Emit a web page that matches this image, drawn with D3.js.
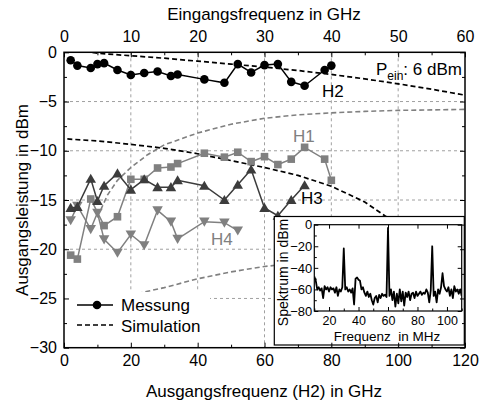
<!DOCTYPE html>
<html>
<head>
<meta charset="utf-8">
<script src="https://cdn.jsdelivr.net/npm/d3@7"></script>
<style>
  html, body { margin: 0; padding: 0; background: #fff; }
  svg { display: block; font-family: "Liberation Sans", Arial, Helvetica, sans-serif; }
</style>
</head>
<body>
<svg id="chart" width="479" height="402"></svg>
<script>
// ---------- data ----------
const xTicksBottom = [0, 20, 40, 60, 80, 100, 120];
const xTicksTop = [0, 10, 20, 30, 40, 50, 60];
const yTicks = [0, -5, -10, -15, -20, -25, -30];

// Measurement (x = output frequency of H2 in GHz)
const h2Freq = [2, 4, 8, 10, 12, 16, 20, 24, 28, 32, 34, 42, 48, 52, 56, 60, 64, 68, 72, 78, 80];
const h2Meas = [-0.8, -1.35, -1.6, -1.2, -1.1, -1.8, -2.3, -2.1, -1.95, -2.4, -2.25, -2.75, -3.1, -1.2, -2.05, -1.3, -1.2, -3.0, -3.4, -1.8, -1.35];

const h1Freq = [2, 4, 8, 12, 16, 20, 24, 28, 32, 34, 42, 48, 52, 56, 60, 64, 68, 72, 78, 80];
const h1Meas = [-20.6, -21.0, -14.9, -17.6, -16.7, -12.9, -12.9, -11.75, -11.65, -11.3, -10.25, -10.65, -10.15, -11.1, -10.6, -11.4, -10.85, -9.65, -10.85, -13.0];

const h3Freq = [2, 4, 8, 10, 12, 16, 20, 24, 28, 32, 34, 42, 48, 52, 56, 60, 64, 68, 72];
const h3Meas = [-15.8, -15.7, -12.85, -15.1, -13.55, -12.3, -13.95, -12.9, -13.7, -13.7, -13.0, -13.55, -15.0, -13.45, -11.9, -15.8, -16.6, -15.0, -13.5];

const h4Freq = [2, 4, 8, 10, 12, 16, 20, 24, 28, 32, 34, 42, 48, 52];
const h4Meas = [-17.05, -15.6, -17.95, -16.3, -19.0, -20.35, -18.5, -19.6, -16.05, -17.2, -18.95, -17.2, -17.3, -18.1];

// Simulation curves
const simH2Freq = [8.5, 10, 20, 30, 40, 50, 60, 70, 80, 90, 100, 110, 120];
const simH2 = [0, -0.1, -0.35, -0.6, -0.9, -1.2, -1.5, -1.85, -2.25, -2.7, -3.2, -3.75, -4.35];

const simH3Freq = [1, 10, 20, 30, 40, 50, 60, 70, 80, 90, 96, 105];
const simH3 = [-8.8, -9.0, -9.35, -9.75, -10.3, -11.0, -11.7, -12.5, -13.6, -15.2, -16.6, -18.5];

const simH1Freq = [11, 13, 16, 20, 25, 30, 35, 40, 50, 60, 70, 80, 90, 100, 110, 120];
const simH1 = [-16, -14.5, -13, -11.7, -10.4, -9.4, -8.8, -8.2, -7.3, -6.7, -6.35, -6.15, -6.0, -5.9, -5.85, -5.8];

const simH4Freq = [22, 30, 40, 50, 60, 70, 80];
const simH4 = [-24.5, -23.9, -23.0, -22.3, -21.75, -21.4, -21.2];

// Inset spectrum (MHz, dBm)
const specTicksX = [20, 40, 60, 80, 100];
const specTicksY = [0, -20, -40, -60, -80];
const specFreq = [10, 11, 12, 13, 14, 15, 16, 17, 18, 19, 20, 21, 22, 23, 24, 25, 26, 27, 28, 29,
  30, 31, 32, 33, 34, 35, 36, 37, 38, 39, 40, 41, 42, 43, 44, 45, 46, 47, 48, 49,
  50, 51, 52, 53, 54, 55, 56, 57, 58, 59, 60, 61, 62, 63, 64, 65, 66, 67, 68, 69,
  70, 71, 72, 73, 74, 75, 76, 77, 78, 79, 80, 81, 82, 83, 84, 85, 86, 87, 88, 89,
  90, 91, 92, 93, 94, 95, 96, 97, 98, 99, 100, 101, 102, 103, 104, 105, 106, 107, 108, 109, 110];
const specLevel = [-48, -52, -60, -58, -61, -59, -68, -57, -60, -58, -62, -58, -60, -59, -63, -58, -66, -60, -62, -58,
  -22, -60, -58, -62, -60, -63, -59, -74, -50, -49, -51, -52, -60, -58, -63, -66, -62, -67, -64, -70,
  -74, -68, -66, -72, -65, -68, -64, -66, -65, -67, -3, -66, -60, -70, -62, -76, -64, -73, -60, -71,
  -62, -75, -63, -67, -62, -70, -64, -63, -68, -62, -66, -64, -62, -65, -63, -64, -60, -63, -72, -61,
  -20, -66, -62, -72, -60, -64, -58, -45, -57, -60, -62, -58, -66, -60, -68, -57, -62, -60, -64, -60, -66];

// ---------- drawing ----------
const svg = d3.select("#chart");
const L = 64, R = 465, T = 52.3, B = 347.7;
const x = d3.scaleLinear().domain([0, 120]).range([L, R]);
const xTop = d3.scaleLinear().domain([0, 60]).range([L, R]);
const y = d3.scaleLinear().domain([-30, 0]).range([B, T]);

const gray = "#808080", dark = "#3c3c3c", gridC = "#a0a0a0";

// grid
const grid = svg.append("g");
grid.selectAll("line.v").data(xTicksBottom.slice(1, -1)).join("line")
  .attr("x1", d => x(d)).attr("x2", d => x(d)).attr("y1", T).attr("y2", B)
  .attr("stroke", gridC).attr("stroke-width", 1).attr("stroke-dasharray", "3,3");
grid.selectAll("line.h").data(yTicks.slice(1, -1)).join("line")
  .attr("y1", d => y(d)).attr("y2", d => y(d)).attr("x1", L).attr("x2", R)
  .attr("stroke", gridC).attr("stroke-width", 1).attr("stroke-dasharray", "3,3");

// clip
svg.append("clipPath").attr("id", "plotclip").append("rect")
  .attr("x", L).attr("y", T).attr("width", R - L).attr("height", B - T);
const plot = svg.append("g").attr("clip-path", "url(#plotclip)");

const line = d3.line().x(d => x(d[0])).y(d => y(d[1]));
const zip = (a, b) => a.map((v, i) => [v, b[i]]);

// simulation curves
const sims = [
  { f: simH1Freq, v: simH1, c: gray, w: 1.6 },
  { f: simH4Freq, v: simH4, c: gray, w: 1.6 },
  { f: simH3Freq, v: simH3, c: "#000", w: 1.7 },
  { f: simH2Freq, v: simH2, c: "#000", w: 1.7 }
];
sims.forEach(s => {
  plot.append("path").datum(zip(s.f, s.v)).attr("d", line)
    .attr("fill", "none").attr("stroke", s.c).attr("stroke-width", s.w)
    .attr("stroke-dasharray", "5,3");
});

// measurement series
const tri = d3.symbol().type(d3.symbolTriangle).size(48);
function series(f, v, color, kind) {
  const data = zip(f, v);
  plot.append("path").datum(data).attr("d", line)
    .attr("fill", "none").attr("stroke", color).attr("stroke-width", 1.5);
  const g = plot.append("g");
  if (kind === "circle") {
    g.selectAll("circle").data(data).join("circle")
      .attr("cx", d => x(d[0])).attr("cy", d => y(d[1])).attr("r", 4.3).attr("fill", color);
  } else if (kind === "square") {
    g.selectAll("rect").data(data).join("rect")
      .attr("x", d => x(d[0]) - 3.8).attr("y", d => y(d[1]) - 3.8)
      .attr("width", 7.6).attr("height", 7.6).attr("fill", color);
  } else {
    const rot = kind === "down" ? 180 : 0;
    g.selectAll("path").data(data).join("path").attr("d", tri)
      .attr("transform", d => `translate(${x(d[0])},${y(d[1]) + (kind === "down" ? -1 : 1)}) rotate(${rot})`)
      .attr("fill", color);
  }
}
series(h4Freq, h4Meas, gray, "down");
series(h1Freq, h1Meas, gray, "square");
series(h3Freq, h3Meas, dark, "up");
series(h2Freq, h2Meas, "#000", "circle");

// legend box (white) and legend
svg.append("rect").attr("x", L + 1).attr("y", 292).attr("width", 145).attr("height", B - 292 - 1).attr("fill", "#fff");
svg.append("line").attr("x1", 77).attr("x2", 113).attr("y1", 305).attr("y2", 305).attr("stroke", "#000").attr("stroke-width", 1.5);
svg.append("circle").attr("cx", 97).attr("cy", 305).attr("r", 4.3).attr("fill", "#000");
svg.append("text").attr("x", 121).attr("y", 311).attr("font-size", 17).text("Messung");
svg.append("line").attr("x1", 77).attr("x2", 113).attr("y1", 325).attr("y2", 325).attr("stroke", "#000").attr("stroke-width", 1.7).attr("stroke-dasharray", "5,3");
svg.append("text").attr("x", 121).attr("y", 331.5).attr("font-size", 17).text("Simulation");

// labels in plot
svg.append("text").attr("x", 322).attr("y", 96.7).attr("font-size", 17).attr("fill", "#000").text("H2");
svg.append("text").attr("x", 293).attr("y", 142).attr("font-size", 17).attr("fill", gray).text("H1");
svg.append("text").attr("x", 301).attr("y", 204).attr("font-size", 17).attr("fill", "#000").text("H3");
svg.append("text").attr("x", 211).attr("y", 245).attr("font-size", 17).attr("fill", gray).text("H4");
const pt = svg.append("text").attr("x", 376).attr("y", 75).attr("font-size", 17);
pt.append("tspan").text("P");
pt.append("tspan").attr("font-size", 12).attr("dy", 5).text("ein");
pt.append("tspan").attr("dy", -5).text(": 6 dBm");

// ---------- inset ----------
const inset = svg.append("g");
inset.append("rect").attr("x", 274.3).attr("y", 216.5).attr("width", 190).attr("height", 128.5)
  .attr("fill", "#fff").attr("stroke", "#000").attr("stroke-width", 1.2);
const iL = 314.3, iR = 461.7, iT = 224.7, iB = 311;
const xi = d3.scaleLinear().domain([10, 110]).range([iL, iR]);
const yi = d3.scaleLinear().domain([-80, 0]).range([iB, iT]);
svg.append("clipPath").attr("id", "insetclip").append("rect")
  .attr("x", iL).attr("y", iT - 2).attr("width", iR - iL).attr("height", iB - iT + 2);
inset.append("path").datum(zip(specFreq, specLevel))
  .attr("d", d3.line().x(d => xi(d[0])).y(d => yi(d[1])))
  .attr("clip-path", "url(#insetclip)")
  .attr("fill", "none").attr("stroke", "#000").attr("stroke-width", 1.8).attr("stroke-linejoin", "round");

function styleAxis(g, fs) {
  g.select(".domain").remove();
  g.selectAll("line").attr("stroke", "#000").attr("stroke-width", 1);
  g.selectAll("text").attr("font-size", fs).attr("fill", "#000").attr("font-family", null);
  g.attr("font-family", null);
}
// inset axes
const ia1 = inset.append("g").attr("transform", `translate(0,${iB})`)
  .call(d3.axisBottom(xi).tickValues(specTicksX).tickSize(-4).tickPadding(5));
styleAxis(ia1, 12.5);
const ia1m = inset.append("g").attr("transform", `translate(0,${iB})`)
  .call(d3.axisBottom(xi).tickValues([10, 30, 50, 70, 90, 110]).tickSize(-2.5).tickFormat(""));
styleAxis(ia1m, 13);
const ia2 = inset.append("g").attr("transform", `translate(${iL},0)`)
  .call(d3.axisLeft(yi).tickValues(specTicksY).tickSize(-4).tickPadding(2));
styleAxis(ia2, 13);
const ia2m = inset.append("g").attr("transform", `translate(${iL},0)`)
  .call(d3.axisLeft(yi).tickValues([-10, -30, -50, -70]).tickSize(-2.5).tickFormat(""));
styleAxis(ia2m, 13);
const ia3 = inset.append("g").attr("transform", `translate(0,${iT})`)
  .call(d3.axisTop(xi).tickValues(specTicksX).tickSize(-4).tickFormat(""));
styleAxis(ia3, 13);
const ia4 = inset.append("g").attr("transform", `translate(${iR},0)`)
  .call(d3.axisRight(yi).tickValues(specTicksY).tickSize(-4).tickFormat(""));
styleAxis(ia4, 13);
inset.append("rect").attr("x", iL).attr("y", iT).attr("width", iR - iL).attr("height", iB - iT)
  .attr("fill", "none").attr("stroke", "#000").attr("stroke-width", 1.2);
inset.append("text").attr("x", 387).attr("y", 340.5).attr("text-anchor", "middle")
  .attr("font-size", 13.5).style("white-space", "pre").text("Frequenz  in MHz");
inset.append("text").attr("transform", "translate(288,272.5) rotate(-90)").attr("text-anchor", "middle")
  .attr("font-size", 14).text("Spektrum in dBm");

// ---------- main axes ----------
const aB = svg.append("g").attr("transform", `translate(0,${B})`)
  .call(d3.axisBottom(x).tickValues(xTicksBottom).tickSize(-5).tickPadding(7));
styleAxis(aB, 16);
const aBm = svg.append("g").attr("transform", `translate(0,${B})`)
  .call(d3.axisBottom(x).tickValues([10, 30, 50, 70, 90, 110]).tickSize(-3).tickFormat(""));
styleAxis(aBm, 16);
const aT = svg.append("g").attr("transform", `translate(0,${T})`)
  .call(d3.axisTop(xTop).tickValues(xTicksTop).tickSize(-5).tickPadding(10.5));
styleAxis(aT, 16);
const aTm = svg.append("g").attr("transform", `translate(0,${T})`)
  .call(d3.axisTop(xTop).tickValues([5, 15, 25, 35, 45, 55]).tickSize(-3).tickFormat(""));
styleAxis(aTm, 16);
const aL = svg.append("g").attr("transform", `translate(${L},0)`)
  .call(d3.axisLeft(y).tickValues(yTicks).tickSize(-5).tickPadding(7));
styleAxis(aL, 16);
const aLm = svg.append("g").attr("transform", `translate(${L},0)`)
  .call(d3.axisLeft(y).tickValues([-2.5, -7.5, -12.5, -17.5, -22.5, -27.5]).tickSize(-3).tickFormat(""));
styleAxis(aLm, 16);
const aR = svg.append("g").attr("transform", `translate(${R},0)`)
  .call(d3.axisRight(y).tickValues(yTicks).tickSize(-5).tickFormat(""));
styleAxis(aR, 16);
const aRm = svg.append("g").attr("transform", `translate(${R},0)`)
  .call(d3.axisRight(y).tickValues([-2.5, -7.5, -12.5, -17.5, -22.5, -27.5]).tickSize(-3).tickFormat(""));
styleAxis(aRm, 16);

// frame
svg.append("rect").attr("x", L).attr("y", T).attr("width", R - L).attr("height", B - T)
  .attr("fill", "none").attr("stroke", "#000").attr("stroke-width", 1.5);

// axis titles
svg.append("text").attr("x", 264).attr("y", 20).attr("text-anchor", "middle").attr("font-size", 17)
  .text("Eingangsfrequenz in GHz");
svg.append("text").attr("x", 264).attr("y", 396.5).attr("text-anchor", "middle").attr("font-size", 17)
  .text("Ausgangsfrequenz (H2) in GHz");
svg.append("text").attr("transform", "translate(28,200) rotate(-90)").attr("text-anchor", "middle").attr("font-size", 17)
  .text("Ausgangsleistung in dBm");
</script>
</body>
</html>
